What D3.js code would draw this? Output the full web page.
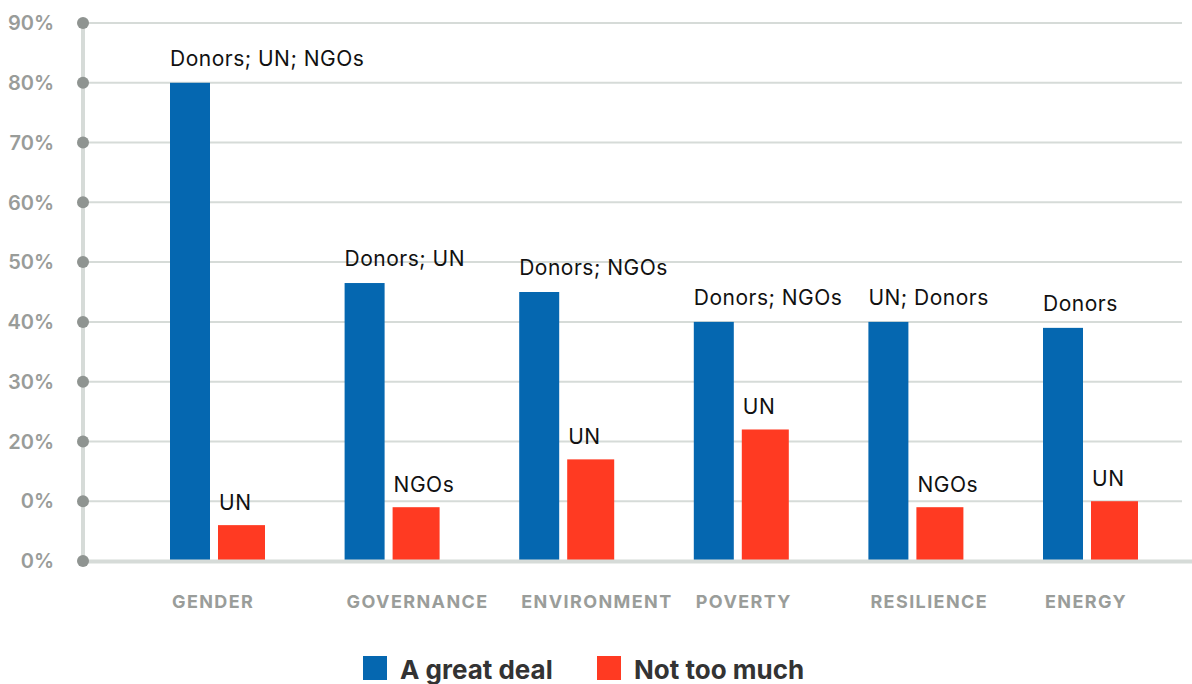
<!DOCTYPE html>
<html>
<head>
<meta charset="utf-8">
<script src="https://cdn.jsdelivr.net/npm/d3@7"></script>
<style>
  html, body { margin: 0; padding: 0; background: #fff; }
  svg { display: block; font-family: Inter, "Noto Sans", sans-serif; }
</style>
</head>
<body>
<svg id="chart" width="1192" height="684"></svg>
<script>
// ---- data ----
const categories = ["GENDER", "GOVERNANCE", "ENVIRONMENT", "POVERTY", "RESILIENCE", "ENERGY"];
const greatDeal = [80, 46.5, 45, 40, 40, 39];
const notTooMuch = [6, 9, 17, 22, 9, 10];
const greatDealLabels = ["Donors; UN; NGOs", "Donors; UN", "Donors; NGOs", "Donors; NGOs", "UN; Donors", "Donors"];
const notTooMuchLabels = ["UN", "NGOs", "UN", "UN", "NGOs", "UN"];
const tickValues = [0, 10, 20, 30, 40, 50, 60, 70, 80, 90];
const tickLabels = ["0%", "0%", "20%", "30%", "40%", "50%", "60%", "70%", "80%", "90%"];
const seriesNames = ["A great deal", "Not too much"];
const seriesColors = ["#0567b0", "#ff3a22"];

// ---- layout ----
const svg = d3.select("#chart");
const axisX = 83;
const y = d3.scaleLinear().domain([0, 90]).range([561, 23]);
const x = d3.scaleBand().domain(categories).range([170, 170 + 6 * 174.6]).padding(0);
const blueW = 40, redOff = 48, redW = 47;

// gridlines
svg.append("g").selectAll("line")
  .data(tickValues.filter(v => v > 0))
  .join("line")
  .attr("x1", axisX).attr("x2", 1182)
  .attr("y1", d => y(d)).attr("y2", d => y(d))
  .attr("stroke", "#d6dbd8").attr("stroke-width", 2);

// vertical axis line
svg.append("line")
  .attr("x1", axisX).attr("x2", axisX)
  .attr("y1", y(90)).attr("y2", y(0))
  .attr("stroke", "#d6dbd8").attr("stroke-width", 4);

// bars
const gBars = svg.append("g");
gBars.selectAll("rect.blue")
  .data(categories)
  .join("rect").attr("class", "blue")
  .attr("x", d => x(d))
  .attr("width", blueW)
  .attr("y", (d, i) => y(greatDeal[i]))
  .attr("height", (d, i) => y(0) - y(greatDeal[i]))
  .attr("fill", seriesColors[0]);
gBars.selectAll("rect.red")
  .data(categories)
  .join("rect").attr("class", "red")
  .attr("x", d => x(d) + redOff)
  .attr("width", redW)
  .attr("y", (d, i) => y(notTooMuch[i]))
  .attr("height", (d, i) => y(0) - y(notTooMuch[i]))
  .attr("fill", seriesColors[1]);

// baseline
svg.append("line")
  .attr("x1", axisX).attr("x2", 1192)
  .attr("y1", y(0) + 0.5).attr("y2", y(0) + 0.5)
  .attr("stroke", "#d6dbd8").attr("stroke-width", 4);

// tick dots + labels
const gTicks = svg.append("g");
gTicks.selectAll("circle")
  .data(tickValues)
  .join("circle")
  .attr("cx", axisX).attr("cy", d => y(d)).attr("r", 6)
  .attr("fill", "#8f9491");
gTicks.selectAll("text")
  .data(tickValues)
  .join("text")
  .attr("x", 54).attr("y", d => y(d))
  .attr("dy", "0.36em")
  .attr("text-anchor", "end")
  .attr("font-size", 20).attr("font-weight", 600)
  .attr("fill", "#999c99")
  .text((d, i) => tickLabels[i]);

// bar labels
svg.append("g").selectAll("text")
  .data(categories)
  .join("text")
  .attr("x", d => x(d))
  .attr("y", (d, i) => y(greatDeal[i]) - 17)
  .attr("font-size", 21).attr("letter-spacing", 0.5).attr("fill", "#111")
  .text((d, i) => greatDealLabels[i]);
svg.append("g").selectAll("text")
  .data(categories)
  .join("text")
  .attr("x", d => x(d) + redOff + 1)
  .attr("y", (d, i) => y(notTooMuch[i]) - 15)
  .attr("font-size", 21).attr("letter-spacing", 0.5).attr("fill", "#111")
  .text((d, i) => notTooMuchLabels[i]);

// category labels
svg.append("g").selectAll("text")
  .data(categories)
  .join("text")
  .attr("x", d => x(d) + 2)
  .attr("y", 608)
  .attr("font-size", 18).attr("font-weight", 700).attr("letter-spacing", 1.4)
  .attr("fill", "#9a9d9a")
  .text(d => d);

// legend
const legendX = [363, 597];
const lg = svg.append("g");
lg.selectAll("rect")
  .data(seriesNames)
  .join("rect")
  .attr("x", (d, i) => legendX[i]).attr("y", 656)
  .attr("width", 24).attr("height", 24)
  .attr("fill", (d, i) => seriesColors[i]);
lg.selectAll("text")
  .data(seriesNames)
  .join("text")
  .attr("x", (d, i) => legendX[i] + 37).attr("y", 679)
  .attr("font-size", 26).attr("font-weight", 700)
  .attr("fill", "#333")
  .text(d => d);
</script>
</body>
</html>
